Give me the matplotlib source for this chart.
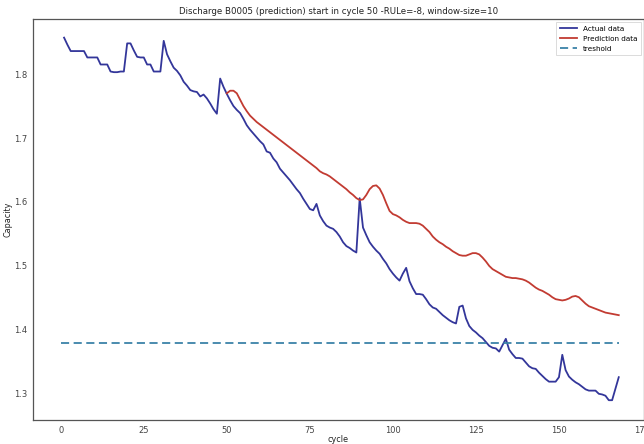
import matplotlib
matplotlib.use("Agg")
import matplotlib.pyplot as plt

actual_cycles = list(range(1, 169))
actual_capacity = [
    1.857, 1.846, 1.836, 1.836, 1.836, 1.836, 1.836, 1.826, 1.826, 1.826,
    1.826, 1.815, 1.815, 1.815, 1.804, 1.803, 1.803, 1.804, 1.804, 1.848,
    1.848, 1.837, 1.827, 1.826, 1.826, 1.815, 1.815, 1.804, 1.804, 1.804,
    1.852, 1.831, 1.820, 1.810, 1.805, 1.798, 1.788, 1.782, 1.775, 1.773,
    1.772, 1.765, 1.768, 1.762, 1.754, 1.745, 1.738, 1.793, 1.780, 1.769,
    1.759, 1.750, 1.744, 1.739, 1.730, 1.720, 1.713, 1.707, 1.701, 1.695,
    1.690, 1.679, 1.677, 1.668, 1.662, 1.652, 1.646, 1.640, 1.634, 1.627,
    1.620, 1.614, 1.605, 1.597, 1.589, 1.587, 1.597, 1.579, 1.570, 1.563,
    1.560, 1.558, 1.553, 1.546, 1.537, 1.531, 1.528, 1.524, 1.521, 1.606,
    1.560, 1.548, 1.537, 1.530, 1.524, 1.519, 1.511, 1.504, 1.495, 1.488,
    1.482, 1.477, 1.488, 1.497, 1.476, 1.465, 1.456, 1.456, 1.455, 1.448,
    1.440, 1.435, 1.433, 1.428, 1.423, 1.419, 1.415, 1.412, 1.410, 1.436,
    1.438, 1.418, 1.406, 1.400, 1.396, 1.391, 1.387, 1.381, 1.375, 1.372,
    1.371, 1.366, 1.376, 1.386, 1.369, 1.362, 1.356, 1.356, 1.355, 1.349,
    1.343, 1.340, 1.339, 1.333, 1.328, 1.323, 1.319, 1.319, 1.319, 1.326,
    1.361, 1.337, 1.327, 1.322, 1.318, 1.315, 1.311, 1.307, 1.305, 1.305,
    1.305, 1.300, 1.299, 1.297, 1.290, 1.290, 1.308, 1.326,
]

pred_cycles = list(range(50, 169))
pred_capacity = [
    1.770, 1.774, 1.774, 1.770, 1.760, 1.750, 1.742, 1.735, 1.730, 1.725,
    1.721, 1.717, 1.713, 1.709, 1.705, 1.701, 1.697, 1.693, 1.689, 1.685,
    1.681, 1.677, 1.673, 1.669, 1.665, 1.661, 1.657, 1.653, 1.648, 1.645,
    1.643, 1.640, 1.636, 1.632, 1.628, 1.624, 1.620, 1.615, 1.611, 1.606,
    1.603, 1.604, 1.611, 1.620, 1.625, 1.626, 1.621, 1.611, 1.598, 1.586,
    1.581, 1.579, 1.576, 1.572, 1.569, 1.567, 1.567, 1.567, 1.566, 1.563,
    1.558, 1.553, 1.546, 1.541, 1.537, 1.534, 1.530, 1.527, 1.523, 1.520,
    1.517, 1.516, 1.516, 1.518, 1.520, 1.520, 1.518, 1.513, 1.507, 1.500,
    1.495, 1.492, 1.489, 1.486, 1.483, 1.482, 1.481, 1.481, 1.480, 1.479,
    1.477, 1.474, 1.470, 1.466, 1.463, 1.461, 1.458, 1.455, 1.451, 1.448,
    1.447, 1.446, 1.447, 1.449, 1.452, 1.453, 1.451, 1.446, 1.441, 1.437,
    1.435, 1.433, 1.431, 1.429, 1.427, 1.426, 1.425, 1.424, 1.423,
]

threshold_cycles = [0, 168]
threshold_value = 1.38

title = "Discharge B0005 (prediction) start in cycle 50 -RULe=-8, window-size=10"

plt.rcParams['font.family'] = ['DejaVu Sans']
fig = plt.figure(figsize=(6.44, 4.44), dpi=100)
ax = fig.add_axes([0.051, 0.054, 0.949, 0.903])

ax.plot(actual_cycles, actual_capacity, color='#33369a', lw=1.3, label='Actual data')
ax.plot(pred_cycles, pred_capacity, color='#c23b32', lw=1.3, label='Prediction data')
ax.plot(threshold_cycles, [threshold_value] * 2, color='#3b82a8', lw=1.3,
        ls=(0, (4.5, 2.5)), label='treshold')

ax.set_xlim(-8.4, 175.6)
ax.set_ylim(1.259, 1.886)
ax.set_xticks([0, 25, 50, 75, 100, 125, 150, 175])
ax.set_yticks([1.3, 1.4, 1.5, 1.6, 1.7, 1.8])
ax.tick_params(length=0, labelsize=6, colors='#444444', pad=4)
for s in ax.spines.values():
    s.set_color('#555555')
    s.set_linewidth(0.9)
ax.set_title(title, fontsize=6.2, color='#222222', pad=4)
ax.set_xlabel('cycle', fontsize=5.8, color='#222222', labelpad=0.5)
ax.set_ylabel('Capacity', fontsize=5.8, color='#222222', labelpad=1)
leg = ax.legend(loc='upper right', fontsize=5.2, frameon=True, fancybox=False,
                edgecolor='#cccccc', handlelength=2.4, borderpad=0.5,
                labelspacing=0.55, borderaxespad=0.4)
leg.get_frame().set_linewidth(0.6)

fig.savefig('out.png', dpi=100)
